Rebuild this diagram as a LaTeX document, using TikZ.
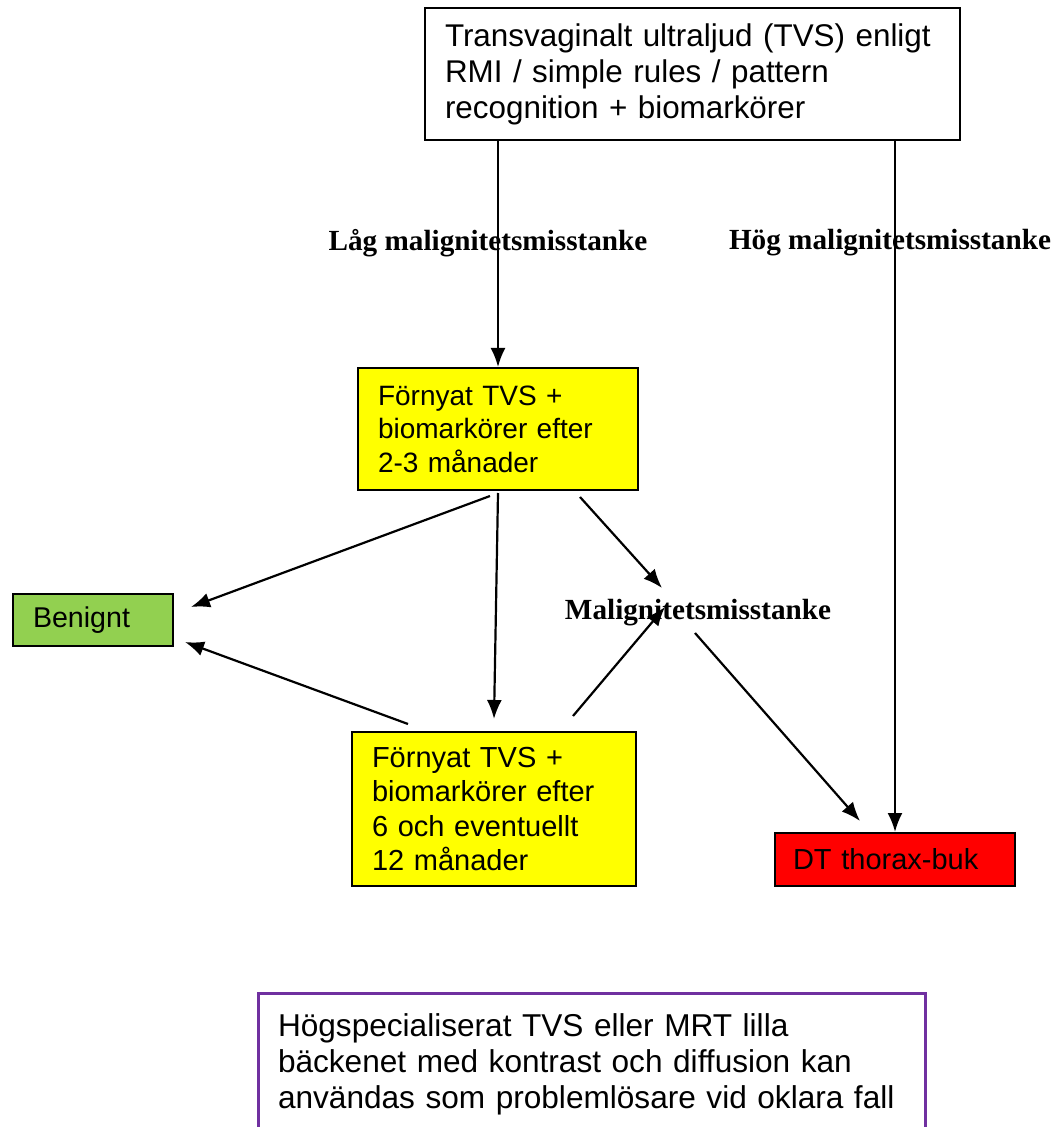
\documentclass[tikz,border=0pt]{standalone}
\usepackage{fontspec}
\setmainfont{Liberation Sans}
\newfontfamily\labelserif{Liberation Serif}
\usepackage{tikz}
\usetikzlibrary{arrows,arrows.meta,shapes}
\definecolor{boxyellow}{HTML}{FFFF00}
\definecolor{boxgreen}{HTML}{92D050}
\definecolor{boxred}{HTML}{FF0000}
\definecolor{boxpurple}{HTML}{7030A0}

\begin{document}
\begin{tikzpicture}[x=0.5pt,y=-0.5pt,
  box/.style={draw,line width=1pt,rectangle,inner xsep=10pt,align=left},
  lab/.style={font=\labelserif\bfseries\fontsize{14.6}{17}\selectfont},
  arr/.style={-{Latex[length=9.5pt,width=7.5pt]},line width=1.1pt}]
  \useasboundingbox (0,0) rectangle (1054,1127);
  \node[box,text width=247.5pt,minimum height=66pt,font=\fontsize{15.7}{18}\selectfont] (0) at (692.5,74)
    {Transvaginalt ultraljud (TVS) enligt\\RMI / simple rules / pattern\\recognition + biomarkörer};
  \node[box,fill=boxyellow,text width=120pt,minimum height=61pt,font=\fontsize{14}{16.8}\selectfont] (1) at (498,429)
    {Förnyat TVS +\\biomarkörer efter\\2-3 månader};
  \node[box,fill=boxyellow,text width=122pt,minimum height=77pt,font=\fontsize{14.5}{17.2}\selectfont] (2) at (494,809)
    {Förnyat TVS +\\biomarkörer efter\\6 och eventuellt\\12 månader};
  \node[box,fill=boxgreen,text width=60pt,minimum height=26pt,font=\fontsize{14.3}{17}\selectfont] (3) at (93,620) {Benignt};
  \node[box,fill=boxred,inner xsep=9pt,text width=102pt,minimum height=26.5pt,font=\fontsize{14.5}{17}\selectfont] (4) at (895,859.5) {DT thorax-buk};
  \node[box,draw=boxpurple,line width=1.5pt,text width=313.5pt,minimum height=71pt,font=\fontsize{15.8}{18}\selectfont] (5) at (591.5,1064)
    {Högspecialiserat TVS eller MRT lilla\\bäckenet med kontrast och diffusion kan\\användas som problemlösare vid oklara fall};
  \node[lab] (6) at (698,613) {Malignitetsmisstanke};
  \draw[arr] (1.north |- 0.south) -- (1.north);
  \draw[arr] (4.north |- 0.south) -- (4.north);
  \node[lab] (7) at (488,243) {Låg malignitetsmisstanke};
  \node[lab] (8) at (890,243) {Hög malignitetsmisstanke};
  \draw[arr] ([shift={(-4pt,-2.5pt)}]1.south) -- ([shift={(8.5pt,6.5pt)}]3.east);
  \draw[arr] ([yshift=-1pt]1.south) -- ([yshift=6pt]2.north);
  \draw[arr] ([shift={(41pt,-3pt)}]1.south) -- ([shift={(-18pt,12.5pt)}]6.center);
  \draw[arr] ([shift={(-43pt,3.5pt)}]2.north) -- ([shift={(5.5pt,-11pt)}]3.east);
  \draw[arr] ([shift={(39.5pt,7.5pt)}]2.north) -- ([shift={(-16.5pt,3pt)}]6.center);
  \draw[arr] ([shift={(-1.5pt,-10pt)}]6.center) -- ([shift={(-17.5pt,5.5pt)}]4.north);
\end{tikzpicture}
\end{document}
